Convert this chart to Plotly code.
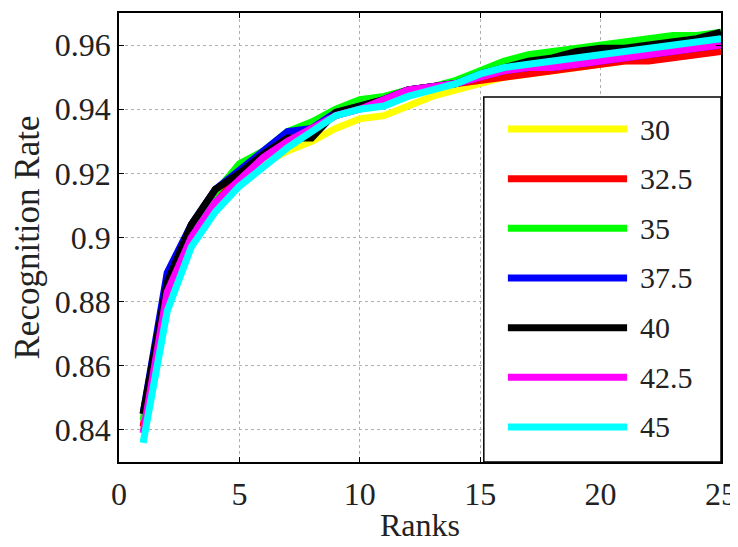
import plotly.graph_objects as go

ranks = list(range(1, 26))
names = ["30", "32.5", "35", "37.5", "40", "42.5", "45"]
colors = ["#ffff00", "#ff0000", "#00ff00", "#0000ff", "#000000", "#ff00ff", "#00ffff"]

s30 = [0.840, 0.882, 0.899, 0.910, 0.917, 0.923, 0.927, 0.930, 0.934, 0.937, 0.938, 0.941, 0.944,
       0.946, 0.948, 0.950, 0.951, 0.952, 0.953, 0.954, 0.955, 0.956, 0.957, 0.958, 0.959]
s32_5 = [0.841, 0.884, 0.901, 0.912, 0.919, 0.925, 0.930, 0.934, 0.938, 0.941, 0.943, 0.946, 0.947,
         0.948, 0.949, 0.950, 0.951, 0.952, 0.953, 0.954, 0.955, 0.955, 0.956, 0.957, 0.958]
s35 = [0.843, 0.886, 0.903, 0.914, 0.923, 0.927, 0.933, 0.936, 0.940, 0.943, 0.944, 0.946, 0.947,
       0.949, 0.952, 0.955, 0.957, 0.958, 0.959, 0.960, 0.961, 0.962, 0.963, 0.963, 0.964]
s37_5 = [0.845, 0.889, 0.904, 0.915, 0.921, 0.927, 0.933, 0.934, 0.939, 0.941, 0.943, 0.946, 0.947,
         0.948, 0.950, 0.952, 0.953, 0.953, 0.954, 0.955, 0.956, 0.957, 0.958, 0.959, 0.960]
s40 = [0.845, 0.886, 0.904, 0.915, 0.920, 0.926, 0.931, 0.931, 0.939, 0.941, 0.943, 0.946, 0.947,
       0.948, 0.951, 0.953, 0.955, 0.956, 0.958, 0.959, 0.959, 0.960, 0.961, 0.962, 0.964]
s42_5 = [0.839, 0.883, 0.900, 0.911, 0.918, 0.925, 0.930, 0.934, 0.938, 0.940, 0.943, 0.946, 0.947,
         0.948, 0.950, 0.952, 0.953, 0.953, 0.954, 0.955, 0.956, 0.957, 0.958, 0.959, 0.960]
s45 = [0.836, 0.877, 0.897, 0.908, 0.916, 0.922, 0.928, 0.933, 0.938, 0.940, 0.941, 0.944, 0.946,
       0.948, 0.951, 0.953, 0.954, 0.955, 0.956, 0.957, 0.958, 0.959, 0.960, 0.961, 0.962]
series = [s30, s32_5, s35, s37_5, s40, s42_5, s45]

x_ticks = [0, 5, 10, 15, 20, 25]
y_ticks = [0.84, 0.86, 0.88, 0.90, 0.92, 0.94, 0.96]
y_tick_text = ["0.84", "0.86", "0.88", "0.9", "0.92", "0.94", "0.96"]

FONT = "Liberation Serif"
TXT = "#222222"

fig = go.Figure()
for name, col, vals in zip(names, colors, series):
    fig.add_trace(go.Scatter(x=ranks, y=vals, mode="lines", name=name,
                             line=dict(color=col, width=7), showlegend=False))

# manual legend box (MATLAB-style long line samples)
shapes = [dict(type="rect", xref="paper", yref="paper", x0=0.606, x1=1.0, y0=0.0, y1=0.813,
               fillcolor="white", line=dict(color="black", width=1.5), layer="above")]
annotations = []
for i, (name, col) in enumerate(zip(names, colors)):
    yc = 0.7416 - i * 0.1106
    shapes.append(dict(type="line", xref="paper", yref="paper", x0=0.646, x1=0.844, y0=yc, y1=yc,
                       line=dict(color=col, width=7), layer="above"))
    annotations.append(dict(xref="paper", yref="paper", x=0.862, y=yc, text=name, showarrow=False,
                            xanchor="left", yanchor="middle",
                            font=dict(family=FONT, size=30, color=TXT)))

fig.update_layout(
    template="none",
    width=730, height=539,
    margin=dict(l=111, r=17, t=5, b=85, autoexpand=False),
    paper_bgcolor="white", plot_bgcolor="white",
    font=dict(family=FONT, size=32, color=TXT),
    shapes=shapes, annotations=annotations,
)
fig.update_xaxes(range=[0, 25], tickvals=x_ticks, ticks="inside", ticklen=5, tickcolor="black",
                 showline=True, linecolor="black", linewidth=1.5, mirror="ticks",
                 showgrid=True, gridcolor="#b0b0b0", griddash="dot", gridwidth=1,
                 zeroline=False, automargin=False, ticklabelstandoff=3,
                 title=dict(text="Ranks", standoff=2, font=dict(family=FONT, size=32, color=TXT)),
                 tickfont=dict(family=FONT, size=32, color=TXT))
fig.update_yaxes(range=[0.83, 0.97], tickvals=y_ticks, ticktext=y_tick_text, ticks="inside",
                 ticklen=5, tickcolor="black",
                 showline=True, linecolor="black", linewidth=1.5, mirror="ticks",
                 showgrid=True, gridcolor="#b0b0b0", griddash="dot", gridwidth=1,
                 zeroline=False, automargin=False,
                 title=dict(text="Recognition Rate", standoff=6, font=dict(family=FONT, size=35, color=TXT)),
                 tickfont=dict(family=FONT, size=32, color=TXT))

fig.write_html("out.html")
